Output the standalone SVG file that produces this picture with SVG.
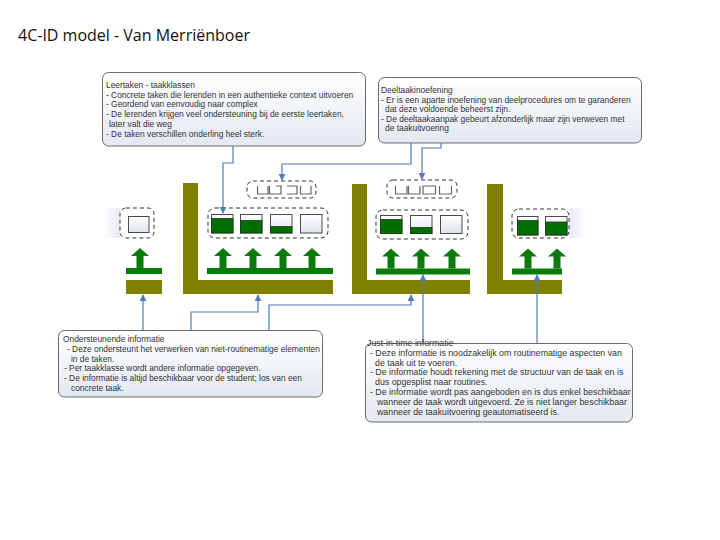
<svg xmlns="http://www.w3.org/2000/svg" width="720" height="540" viewBox="0 0 720 540">
<defs>
<linearGradient id="cg" x1="0" y1="0" x2="0" y2="1"><stop offset="0" stop-color="#ffffff"/><stop offset="1" stop-color="#e3e8f1"/></linearGradient>
<linearGradient id="bg" x1="0" y1="0" x2="0" y2="1"><stop offset="0" stop-color="#ffffff"/><stop offset="1" stop-color="#dde3ee"/></linearGradient>
<linearGradient id="glowL" x1="0" y1="0" x2="1" y2="0"><stop offset="0" stop-color="#e3eaf4" stop-opacity="0"/><stop offset="1" stop-color="#e3eaf4"/></linearGradient>
<linearGradient id="glowR" x1="0" y1="0" x2="1" y2="0"><stop offset="0" stop-color="#e3eaf4"/><stop offset="1" stop-color="#e3eaf4" stop-opacity="0"/></linearGradient>
<marker id="ah" viewBox="0 0 10 10" refX="9" refY="5" markerWidth="7" markerHeight="7" orient="auto" markerUnits="userSpaceOnUse"><path d="M0,0 L10,5 L0,10 Z" fill="#4f7cba"/></marker>
<path id="ga" d="M0,-20 L9,-12 L3.5,-12 L3.5,0 L-3.5,0 L-3.5,-12 L-9,-12 Z"/>
</defs>
<style>
.co{fill:url(#cg);stroke:#6a6a6a;stroke-width:1}
.t{font-family:"Liberation Sans",Arial,sans-serif;font-size:8.4px;fill:#333}
.tj{font-size:8.8px}
.ttl{font-family:"Open Sans","DejaVu Sans",sans-serif;font-size:16px;fill:#111}
.ol{fill:#808000}
.gr{fill:#0a7a0a}
.ds{fill:#fff;stroke:#333;stroke-width:1;stroke-dasharray:4 3}
.tb{fill:url(#bg);stroke:#4a4a4a;stroke-width:1}
.tf{fill:#006e00;stroke:#1e3a1e;stroke-width:0.8}
.si{fill:none;stroke:#666;stroke-width:1.2}
.cn{fill:none;stroke:#4f7cba;stroke-width:1.2}
</style>

<g id="title"><text class="ttl" x="18" y="41">4C-ID model - Van Merriënboer</text></g>

<g id="glow">
<rect x="104" y="208" width="16" height="30" fill="url(#glowL)"/>
<rect x="569" y="208" width="18" height="30" fill="url(#glowR)"/>
</g>

<g id="stage0">
<rect class="ol" x="126" y="280" width="36" height="14"/>
<rect class="gr" x="126" y="268" width="36" height="6"/>
<use href="#ga" class="gr" x="140" y="268"/>
<rect class="ds" x="120" y="208" width="34" height="30" rx="6"/>
<rect class="tb" x="128.5" y="216.5" width="20.5" height="16"/>
</g>

<g id="stage1">
<path class="ol" d="M183,183 H198 V280 H333 V294 H183 Z"/>
<rect class="gr" x="207" y="268" width="126" height="6"/>
<use href="#ga" class="gr" x="223" y="268"/>
<use href="#ga" class="gr" x="253" y="268"/>
<use href="#ga" class="gr" x="283" y="268"/>
<use href="#ga" class="gr" x="312" y="268"/>
<rect class="ds" x="208" y="208" width="120" height="30" rx="7"/>
<rect class="tb" x="211.5" y="214.5" width="21.5" height="18.5"/>
<rect class="tf" x="211.5" y="218.5" width="21.5" height="14.5"/>
<rect class="tb" x="240.5" y="214.5" width="21.5" height="18.5"/>
<rect class="tf" x="240.5" y="220.5" width="21.5" height="12.5"/>
<rect class="tb" x="270.5" y="214.5" width="21.5" height="18.5"/>
<rect class="tf" x="270.5" y="226.5" width="21.5" height="6.5"/>
<rect class="tb" x="300.5" y="214.5" width="21.5" height="18.5"/>
<rect class="ds" x="247" y="181" width="69" height="17" rx="6"/>
<path class="si" d="M257.5,186 V194 H268 V186 M269.5,186 V194 H281 V186 H276 M287,186 H297 V194 H287 M300.5,186 V194 H311 V186"/>
</g>

<g id="stage2">
<path class="ol" d="M352,184 H367 V280 H470 V294 H352 Z"/>
<rect class="gr" x="376" y="268.5" width="94" height="6"/>
<use href="#ga" class="gr" x="391" y="268.5"/>
<use href="#ga" class="gr" x="421" y="268.5"/>
<use href="#ga" class="gr" x="452" y="268.5"/>
<rect class="ds" x="376" y="210" width="92" height="29" rx="7"/>
<rect class="tb" x="380.5" y="215.5" width="21.5" height="18"/>
<rect class="tf" x="380.5" y="219.5" width="21.5" height="14"/>
<rect class="tb" x="410.5" y="215.5" width="21.5" height="18"/>
<rect class="tf" x="410.5" y="227.5" width="21.5" height="6"/>
<rect class="tb" x="440.5" y="215.5" width="21.5" height="18"/>
<rect class="ds" x="387" y="180" width="70" height="18" rx="6"/>
<path class="si" d="M395.5,186 V194 H407 V186 M408.5,186 V194 H420 V186 M423,186 H435.5 V194 H423 Z M439.5,186 V194 H451.5 V186"/>
</g>

<g id="stage3">
<path class="ol" d="M487,184 H503 V280 H562 V294 H487 Z"/>
<rect class="gr" x="512" y="268.5" width="50" height="6"/>
<use href="#ga" class="gr" x="528" y="268.5"/>
<use href="#ga" class="gr" x="557" y="268.5"/>
<rect class="ds" x="512" y="209" width="57" height="29" rx="7"/>
<rect class="tb" x="517.5" y="216.5" width="20.5" height="18.5"/>
<rect class="tf" x="517.5" y="220.5" width="20.5" height="14.5"/>
<rect class="tb" x="545.5" y="216.5" width="21.5" height="18.5"/>
<rect class="tf" x="545.5" y="222" width="21.5" height="13" stroke="#111" stroke-width="1"/>
</g>

<g id="connectors">
<path class="cn" d="M233,146 V163 H223 V213" marker-end="url(#ah)"/>
<path class="cn" d="M411,143 V164 H282 V180" marker-end="url(#ah)"/>
<path class="cn" d="M441,143 V148 H422 V179" marker-end="url(#ah)"/>
<path class="cn" d="M143,330 V295" marker-end="url(#ah)"/>
<path class="cn" d="M191,330 V312 H258 V295" marker-end="url(#ah)"/>
<path class="cn" d="M269,330 V305 H411 V295" marker-end="url(#ah)"/>
<path class="cn" d="M423,343 V275" marker-end="url(#ah)"/>
<path class="cn" d="M537,343 V275" marker-end="url(#ah)"/>
</g>

<g id="leertaken">
<rect class="co" x="102.5" y="72.5" width="263" height="73.5" rx="6"/>
<text class="t" x="106" y="88">Leertaken - taakklassen</text>
<text class="t" x="106" y="97.7">- Concrete taken die lerenden in een authentieke context uitvoeren</text>
<text class="t" x="106" y="107.4">- Geordend van eenvoudig naar complex</text>
<text class="t" x="106" y="117.1">- De lerenden krijgen veel ondersteuning bij de eerste leertaken,</text>
<text class="t" x="109" y="126.8">later valt die weg</text>
<text class="t" x="106" y="136.5">- De taken verschillen onderling heel sterk.</text>
</g>

<g id="deeltaak">
<rect class="co" x="378.5" y="77.5" width="263" height="65.5" rx="6"/>
<text class="t" x="381" y="93">Deeltaakinoefening</text>
<text class="t" x="381" y="102.5">- Er is een aparte inoefening van deelprocedures om te garanderen</text>
<text class="t" x="385" y="112">dat deze voldoende beheerst zijn.</text>
<text class="t" x="381" y="121.5">- De deeltaakaanpak gebeurt afzonderlijk maar zijn verweven met</text>
<text class="t" x="385" y="131">de taakuitvoering</text>
</g>

<g id="ondersteunend">
<rect class="co" x="58.5" y="330.5" width="264" height="66.5" rx="6"/>
<text class="t" x="63" y="342">Ondersteunende informatie</text>
<text class="t" x="67" y="351.8">- Deze ondersteunt het verwerken van niet-routinematige elementen</text>
<text class="t" x="71" y="361.6">in de taken.</text>
<text class="t" x="64" y="371.4">- Per taakklasse wordt andere informatie opgegeven.</text>
<text class="t" x="64" y="381.2">- De informatie is altijd beschikbaar voor de student; los van een</text>
<text class="t" x="71" y="391">concrete taak.</text>
</g>

<g id="justintime">
<rect class="co" x="365.5" y="343.5" width="267" height="78.5" rx="6"/>
<text class="t tj" x="367" y="346">Just-in-time informatie</text>
<text class="t tj" x="370" y="355.8">- Deze informatie is noodzakelijk om routinematige aspecten van</text>
<text class="t tj" x="375" y="365.6">de taak uit te voeren.</text>
<text class="t tj" x="370" y="375.4">- De informatie houdt rekening met de structuur van de taak en is</text>
<text class="t tj" x="375" y="385.2">dus opgesplist naar routines.</text>
<text class="t tj" x="370" y="395">- De informatie wordt pas aangeboden en is dus enkel beschikbaar</text>
<text class="t tj" x="377" y="404.8">wanneer de taak wordt uitgevoerd. Ze is niet langer beschikbaar</text>
<text class="t tj" x="377" y="414.6">wanneer de taakuitvoering geautomatiseerd is.</text>
</g>
</svg>
